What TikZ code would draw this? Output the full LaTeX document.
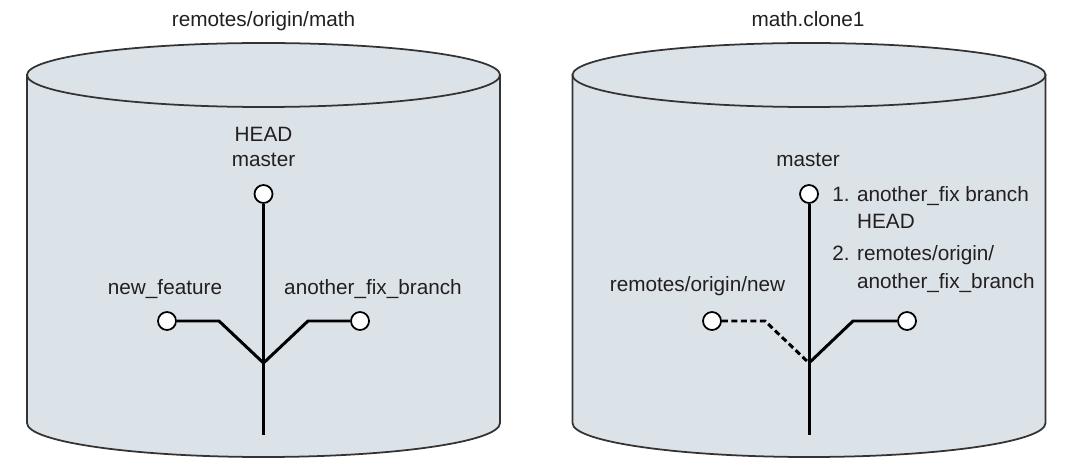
\documentclass[tikz,border=0pt]{standalone}
\usepackage{fontspec}
\setmainfont{Liberation Sans}
\definecolor{cfill}{HTML}{DCE3E8}
\definecolor{cline}{HTML}{333333}
\definecolor{ctext}{HTML}{231F20}
\tikzset{
  every picture/.style={font=\fontsize{11.8}{14.5}\selectfont, text=ctext},
  can/.style={draw=cline, fill=cfill, line width=1pt},
  commit/.style={circle, draw=black, fill=white, line width=1pt, minimum size=0.36cm, inner sep=0pt},
  branch/.style={draw=black, line width=1.7pt},
  tag/.style={anchor=base, inner sep=0pt, align=center},
  title/.style={anchor=base, inner sep=0pt},
}

\begin{document}
\begin{tikzpicture}[gone/.style={branch, dash pattern=on 0.12cm off 0.07cm},
  item/.style={anchor=base west, inner sep=0pt}]
  \useasboundingbox (0,0) rectangle (21.4,-9.3);
  % the two repositories
  \draw[can] (0.54,-1.5) -- (0.54,-8.46) arc[start angle=180, end angle=360, x radius=4.73, y radius=0.68] -- (10.0,-1.5) -- cycle;
  \draw[can] (5.27,-1.5) ellipse[x radius=4.73, y radius=0.64];
  \draw[can] (11.45,-1.5) -- (11.45,-8.46) arc[start angle=180, end angle=360, x radius=4.73, y radius=0.68] -- (20.91,-1.5) -- cycle;
  \draw[can] (16.18,-1.5) ellipse[x radius=4.73, y radius=0.64];
  \node[title] (t1) at (5.27,-0.534) {remotes/origin/math};
  \node[title] (t2) at (16.16,-0.534) {math.clone1};
  % remote
  \node[tag] (hm1) at (5.27,-3.334) {HEAD\\master};
  \node[tag] (nf) at (3.30,-5.88) {new\_feature};
  \node[tag] (af) at (7.46,-5.88) {another\_fix\_branch};
  \node[commit] (c1) at (5.27,-3.88) {};
  \node[commit] (nfc) at (3.34,-6.42) {};
  \node[commit] (afc) at (7.20,-6.42) {};
  \coordinate (nfb) at (4.38,-6.42); \coordinate (afb) at (6.16,-6.42);
  \coordinate (j1) at (5.27,-7.26); \coordinate (e1) at (5.27,-8.70);
  \draw[branch] (c1) -- (e1);
  \draw[branch] (nfc) -- (nfb) -- (j1); \draw[branch] (afc) -- (afb) -- (j1);
  % clone
  \node[tag] (ms2) at (16.16,-3.334) {master};
  \node[item] (it1) at (16.64,-4.034) {\begin{tabular}[t]{@{}l@{\hspace{0.36em}}l@{}}1.&another\_fix branch\\[0.5pt]&HEAD\end{tabular}};
  \node[item] (it2) at (16.64,-5.20) {\begin{tabular}[t]{@{}l@{\hspace{0.36em}}l@{}}2.&remotes/origin/\\[2pt]&another\_fix\_branch\end{tabular}};
  \node[tag] (rn) at (13.95,-5.83) {remotes/origin/new};
  \node[commit] (c2) at (16.18,-3.88) {};
  \node[commit] (rnc) at (14.24,-6.42) {};
  \node[commit] (rac) at (18.14,-6.42) {};
  \coordinate (rnb) at (15.30,-6.42); \coordinate (rab) at (17.06,-6.42);
  \coordinate (j2) at (16.18,-7.26); \coordinate (e2) at (16.18,-8.70);
  \draw[branch] (c2) -- (e2);
  \draw[gone] (rnc) -- (rnb) -- (j2); \draw[branch] (rac) -- (rab) -- (j2);
\end{tikzpicture}
\end{document}
